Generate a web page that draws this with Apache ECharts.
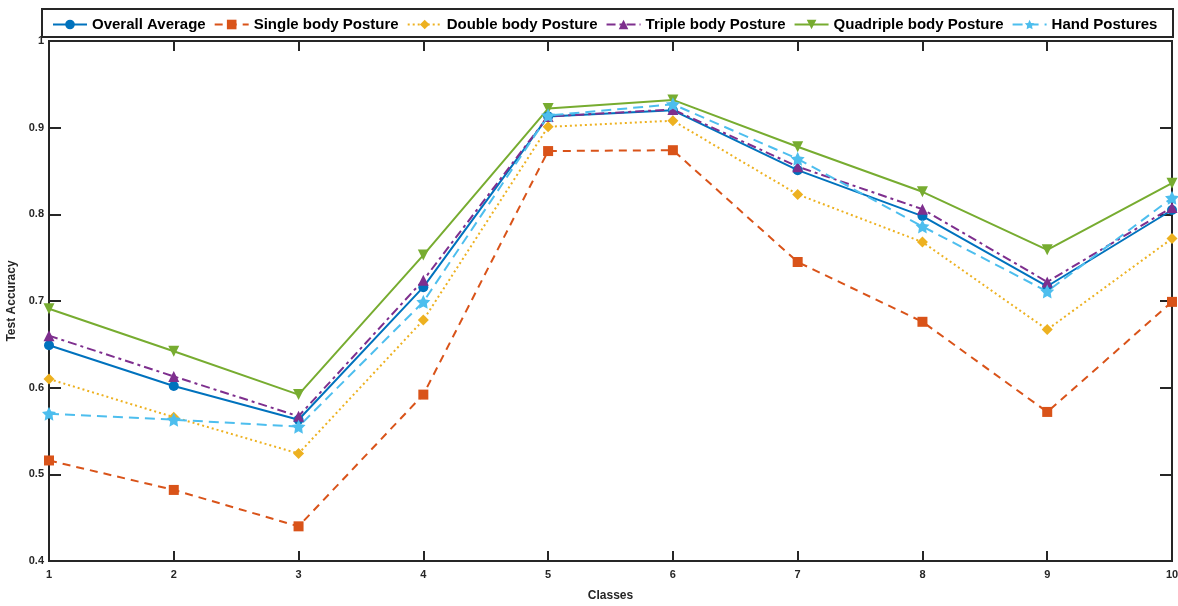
<!DOCTYPE html>
<html>
<head>
<meta charset="utf-8">
<script src="https://cdn.jsdelivr.net/npm/echarts@6/dist/echarts.min.js"></script>
<style>
  html, body { margin: 0; padding: 0; background: #fff; }
  #main { width: 1178px; height: 606px; }
</style>
</head>
<body>
<div id="main"></div>
<script>
// Initialize the echarts instance
var myChart = echarts.init(document.getElementById('main'));

// data
var classes = [1, 2, 3, 4, 5, 6, 7, 8, 9, 10];
var overallAverage = [0.649, 0.602, 0.563, 0.716, 0.913, 0.920, 0.851, 0.798, 0.717, 0.805];
var singleBody = [0.516, 0.482, 0.440, 0.592, 0.873, 0.874, 0.745, 0.676, 0.572, 0.699];
var doubleBody = [0.610, 0.566, 0.524, 0.678, 0.901, 0.908, 0.823, 0.768, 0.667, 0.772];
var tripleBody = [0.660, 0.613, 0.567, 0.724, 0.913, 0.921, 0.855, 0.806, 0.722, 0.808];
var quadripleBody = [0.691, 0.642, 0.592, 0.753, 0.922, 0.932, 0.878, 0.826, 0.759, 0.836];
var handPostures = [0.570, 0.563, 0.555, 0.699, 0.914, 0.927, 0.864, 0.786, 0.711, 0.819];

var starPath = 'path://M0,-10L2.9,-4L9.5,-3.1L4.8,1.5L5.9,8.1L0,5L-5.9,8.1L-4.8,1.5L-9.5,-3.1L-2.9,-4Z';
var fontFam = '"Liberation Sans", Arial, sans-serif';
var axisColor = '#262626';

function pairs(vals) {
    return classes.map(function (c, i) { return [c, vals[i]]; });
}

function makeSeries(name, vals, color, lineType, symbol, size, rotate) {
    return {
        name: name,
        type: 'line',
        data: pairs(vals),
        symbol: symbol,
        symbolSize: size,
        symbolRotate: rotate || 0,
        showAllSymbol: true,
        color: color,
        itemStyle: { color: color },
        lineStyle: { color: color, width: 2, type: lineType },
        emphasis: { disabled: true },
        z: 3
    };
}

option = {
    backgroundColor: '#ffffff',
    animation: false,
    textStyle: { fontFamily: fontFam },
    graphic: [
        {
            type: 'rect',
            left: 41,
            top: 8,
            shape: { width: 1131, height: 28 },
            style: { fill: '#ffffff', stroke: axisColor, lineWidth: 2 },
            z: 10
        }
    ],
    legend: {
        left: 47,
        top: 12,
        itemWidth: 34,
        itemHeight: 12,
        itemGap: 8,
        z: 11,
        textStyle: { fontFamily: fontFam, fontWeight: 'bold', fontSize: 15, color: '#000' },
        data: ['Overall Average', 'Single body Posture', 'Double body Posture',
               'Triple body Posture', 'Quadriple body Posture', 'Hand Postures']
    },
    grid: {
        left: 49,
        right: 6,
        top: 41,
        bottom: 45,
        outerBoundsMode: 'none',
        show: true,
        borderColor: axisColor,
        borderWidth: 2,
        backgroundColor: '#ffffff'
    },
    xAxis: [
        {
            type: 'value',
            min: 1,
            max: 10,
            interval: 1,
            name: 'Classes',
            nameLocation: 'middle',
            nameGap: 29,
            nameTextStyle: { fontFamily: fontFam, fontWeight: 'bold', fontSize: 12, color: axisColor },
            axisLine: { lineStyle: { color: axisColor, width: 2 } },
            axisTick: { inside: true, length: 10, lineStyle: { color: axisColor, width: 2 } },
            axisLabel: { fontFamily: fontFam, fontWeight: 'bold', fontSize: 11, color: axisColor, margin: 8 },
            splitLine: { show: false }
        },
        {
            type: 'value',
            position: 'top',
            min: 1,
            max: 10,
            interval: 1,
            axisLine: { lineStyle: { color: axisColor, width: 2 } },
            axisTick: { inside: true, length: 10, lineStyle: { color: axisColor, width: 2 } },
            axisLabel: { show: false },
            splitLine: { show: false }
        }
    ],
    yAxis: [
        {
            type: 'value',
            min: 0.4,
            max: 1,
            interval: 0.1,
            name: 'Test Accuracy',
            nameLocation: 'middle',
            nameGap: 31,
            nameTextStyle: { fontFamily: fontFam, fontWeight: 'bold', fontSize: 12, color: axisColor },
            axisLine: { show: true, lineStyle: { color: axisColor, width: 2 } },
            axisTick: { show: true, inside: true, length: 12, lineStyle: { color: axisColor, width: 2 } },
            axisLabel: {
                fontFamily: fontFam, fontWeight: 'bold', fontSize: 11, color: axisColor, margin: 5,
                formatter: function (v) { return String(Math.round(v * 10) / 10); }
            },
            splitLine: { show: false }
        },
        {
            type: 'value',
            position: 'right',
            min: 0.4,
            max: 1,
            interval: 0.1,
            axisLine: { show: true, lineStyle: { color: axisColor, width: 2 } },
            axisTick: { show: true, inside: true, length: 12, lineStyle: { color: axisColor, width: 2 } },
            axisLabel: { show: false },
            splitLine: { show: false }
        }
    ],
    series: [
        makeSeries('Overall Average', overallAverage, '#0072BD', 'solid', 'circle', 10),
        makeSeries('Single body Posture', singleBody, '#D95319', [8, 6], 'rect', 10),
        makeSeries('Double body Posture', doubleBody, '#EDB120', [2, 3], 'diamond', 11),
        makeSeries('Triple body Posture', tripleBody, '#7E2F8E', [9, 4, 3, 4], 'triangle', 11),
        makeSeries('Quadriple body Posture', quadripleBody, '#77AC30', 'solid', 'triangle', 11, 180),
        makeSeries('Hand Postures', handPostures, '#4DBEEE', [10, 6], starPath, 14)
    ]
};

myChart.setOption(option);
</script>
</body>
</html>
